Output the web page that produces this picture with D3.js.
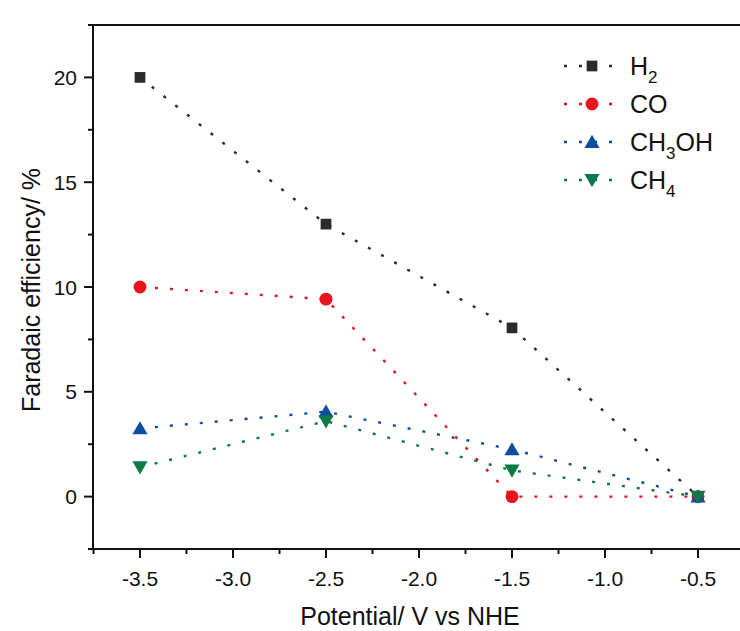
<!DOCTYPE html>
<html>
<head>
<meta charset="utf-8">
<script src="https://cdn.jsdelivr.net/npm/d3@7"></script>
<style>
  body { margin: 0; background: #fff; }
  text { font-family: "Liberation Sans", Arial, sans-serif; fill: #111; }
</style>
</head>
<body>
<svg id="chart" width="740" height="631"></svg>
<script>
// data
var potentials = [-3.5, -2.5, -1.5, -0.5];
var h2 = [20, 13, 8.05, 0];
var co = [10, 9.42, 0, 0];
var ch3oh = [3.25, 4.05, 2.25, 0];
var ch4 = [1.4, 3.6, 1.25, 0];
var xTicks = [-3.5, -3.0, -2.5, -2.0, -1.5, -1.0, -0.5];
var yTicks = [0, 5, 10, 15, 20];

var series = [
  { name: "H", sub: "2", after: "", values: h2, color: "#2b2b2b", shape: d3.symbolSquare },
  { name: "CO", sub: "", after: "", values: co, color: "#e8141b", shape: d3.symbolCircle },
  { name: "CH", sub: "3", after: "OH", values: ch3oh, color: "#0d4ea0", shape: "up" },
  { name: "CH", sub: "4", after: "", values: ch4, color: "#0a7a47", shape: "down" }
];

var svg = d3.select("#chart");
var pLeft = 93, pTop = 25, pRight = 741, pBottom = 549;

var x = d3.scaleLinear().domain([-3.5, -0.5]).range([140, 698]);
var y = d3.scaleLinear().domain([-2.5, 22.5]).range([pBottom, pTop]);

// frame: left, bottom, top (right side is cut off in the figure)
svg.append("path")
  .attr("d", "M" + pRight + "," + pTop + "H" + pLeft + "V" + pBottom + "H" + pRight)
  .attr("fill", "none").attr("stroke", "#111").attr("stroke-width", 2);

// x axis ticks
var xMinor = [-3.75, -3.25, -2.75, -2.25, -1.75, -1.25, -0.75];
var xAxis = svg.append("g").attr("transform", "translate(0," + pBottom + ")");
xAxis.selectAll("line.major").data(xTicks).enter().append("line")
  .attr("x1", function(d) { return x(d); }).attr("x2", function(d) { return x(d); })
  .attr("y1", 0).attr("y2", 9).attr("stroke", "#111").attr("stroke-width", 2);
xAxis.selectAll("line.minor").data(xMinor).enter().append("line")
  .attr("x1", function(d) { return x(d); }).attr("x2", function(d) { return x(d); })
  .attr("y1", 0).attr("y2", 5).attr("stroke", "#111").attr("stroke-width", 2);
xAxis.selectAll("text").data(xTicks).enter().append("text")
  .attr("x", function(d) { return x(d); }).attr("y", 37)
  .attr("text-anchor", "middle").attr("font-size", 21)
  .text(function(d) { return d3.format(".1f")(d).replace("−", "-"); });

// y axis ticks
var yMinor = [-2.5, 2.5, 7.5, 12.5, 17.5, 22.5];
var yAxis = svg.append("g").attr("transform", "translate(" + pLeft + ",0)");
yAxis.selectAll("line.major").data(yTicks).enter().append("line")
  .attr("y1", function(d) { return y(d); }).attr("y2", function(d) { return y(d); })
  .attr("x1", 0).attr("x2", -9).attr("stroke", "#111").attr("stroke-width", 2);
yAxis.selectAll("line.minor").data(yMinor).enter().append("line")
  .attr("y1", function(d) { return y(d); }).attr("y2", function(d) { return y(d); })
  .attr("x1", 0).attr("x2", -5).attr("stroke", "#111").attr("stroke-width", 2);
yAxis.selectAll("text").data(yTicks).enter().append("text")
  .attr("x", -16).attr("y", function(d) { return y(d) + 7.5; })
  .attr("text-anchor", "end").attr("font-size", 21)
  .text(function(d) { return d; });

// axis titles
svg.append("text").attr("x", 410).attr("y", 625).attr("text-anchor", "middle")
  .attr("font-size", 25).text("Potential/ V vs NHE");
svg.append("text").attr("transform", "translate(40,290) rotate(-90)")
  .attr("text-anchor", "middle").attr("font-size", 25).text("Faradaic efficiency/ %");

function symbolPath(shape, size) {
  if (shape === "up" || shape === "down") return d3.symbol(d3.symbolTriangle, size)();
  return d3.symbol(shape, size)();
}
function symbolSize(shape) {
  if (shape === d3.symbolSquare) return 115;
  if (shape === d3.symbolCircle) return 130;
  return 100;
}
function symbolTransform(shape) {
  if (shape === "up") return " translate(0,1.5)";
  if (shape === "down") return " translate(0,-1.5) rotate(180)";
  return "";
}

var line = d3.line().x(function(d) { return x(d[0]); }).y(function(d) { return y(d[1]); });

series.forEach(function(s) {
  var pts = potentials.map(function(p, i) { return [p, s.values[i]]; });
  svg.append("path").datum(pts).attr("d", line)
    .attr("fill", "none").attr("stroke", s.color).attr("stroke-width", 2.4)
    .attr("stroke-dasharray", "3,12");
});
series.forEach(function(s) {
  var pts = potentials.map(function(p, i) { return [p, s.values[i]]; });
  svg.append("g").selectAll("path").data(pts).enter().append("path")
    .attr("d", symbolPath(s.shape, symbolSize(s.shape)))
    .attr("transform", function(d) {
      return "translate(" + x(d[0]) + "," + y(d[1]) + ")" + symbolTransform(s.shape);
    })
    .attr("fill", s.color);
});

// legend
var legend = svg.append("g");
series.forEach(function(s, i) {
  var ly = 66 + i * 38;
  var g = legend.append("g").attr("transform", "translate(0," + ly + ")");
  g.append("line").attr("x1", 562).attr("x2", 622).attr("y1", 0).attr("y2", 0)
    .attr("stroke", s.color).attr("stroke-width", 2.4).attr("stroke-dasharray", "3,12")
    .attr("stroke-dashoffset", -2);
  g.append("path").attr("d", symbolPath(s.shape, symbolSize(s.shape)))
    .attr("transform", "translate(592,0)" + symbolTransform(s.shape))
    .attr("fill", s.color);
  var t = g.append("text").attr("x", 630).attr("y", 9).attr("font-size", 25);
  t.append("tspan").text(s.name);
  if (s.sub) t.append("tspan").attr("font-size", 17).attr("dy", 8).text(s.sub);
  if (s.after) t.append("tspan").attr("dy", -8).text(s.after);
});
</script>
</body>
</html>
